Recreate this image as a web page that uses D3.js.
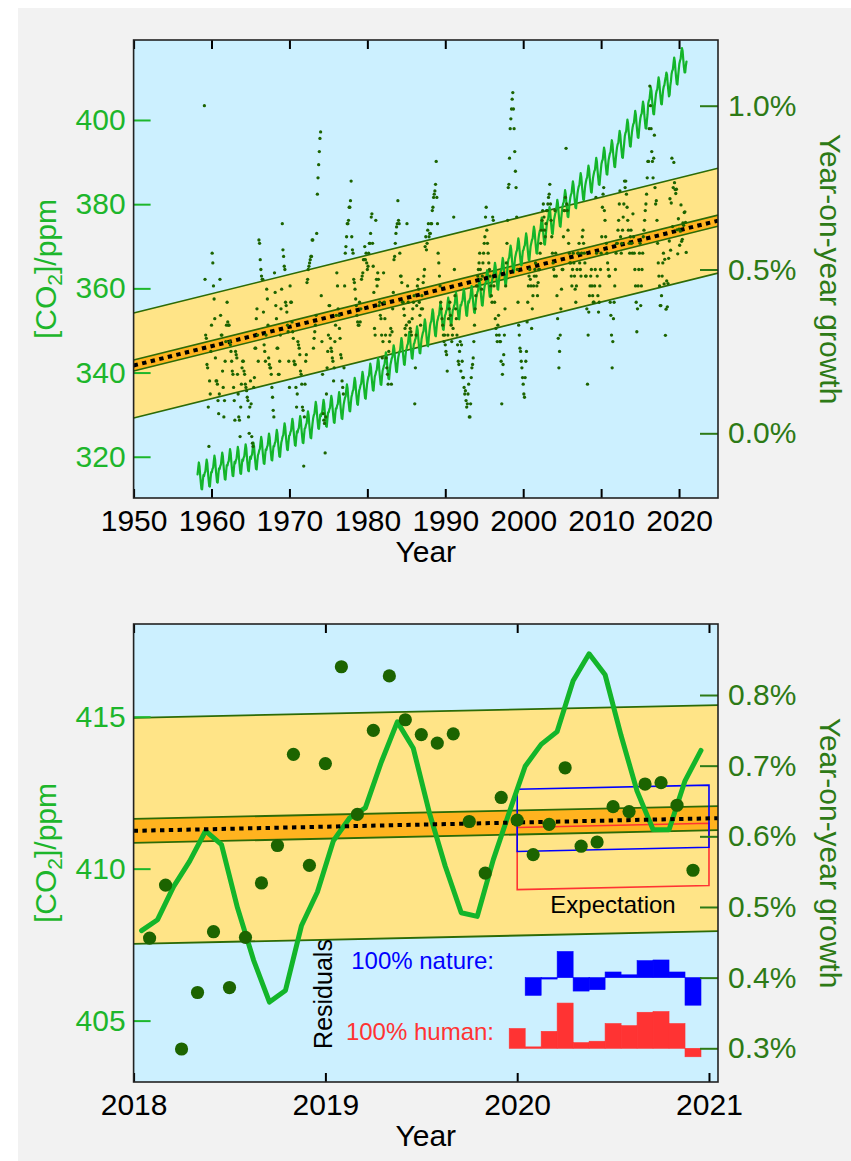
<!DOCTYPE html>
<html>
<head>
<meta charset="utf-8">
<script src="https://cdn.jsdelivr.net/npm/d3@7"></script>
<style>
  html, body { margin: 0; padding: 0; background: #ffffff; }
  svg { display: block; }
</style>
</head>
<body>
<svg id="fig" width="851" height="1161"></svg>
<script>
// ---------------------------------------------------------------------------
// Mauna Loa CO2: annual means (ppm), 1958 (Mar-Dec) to 2017
const co2AnnualStart = 1958;
const co2AnnualMean = [
  315.30, 315.98, 316.91, 317.64, 318.45, 318.99, 319.62, 320.04, 321.37, 322.18,
  323.05, 324.62, 325.68, 326.32, 327.46, 329.68, 330.19, 331.13, 332.03, 333.84,
  335.41, 336.84, 338.76, 340.12, 341.48, 343.15, 344.87, 346.35, 347.61, 349.31,
  351.69, 353.20, 354.45, 355.70, 356.54, 357.21, 358.96, 360.97, 362.74, 363.88,
  366.84, 368.54, 369.71, 371.32, 373.45, 375.98, 377.70, 379.98, 382.09, 384.02,
  385.83, 387.64, 390.10, 391.85, 394.06, 396.74, 398.81, 401.01, 404.41, 406.76
];
// mean seasonal departure from the annual mean, Jan..Dec (ppm)
const co2Seasonal = [-0.57, 0.17, 0.51, 2.02, 3.34, 2.47, 0.36, -1.41, -2.94, -3.06, -1.20, 0.36];
// monthly means 2018-2020 (ppm)
const co2Monthly2018 = [407.96, 408.32, 409.41, 410.24, 411.24, 410.79, 408.71, 407.00, 405.61, 405.99, 408.12, 409.23];
const co2Monthly2019 = [410.92, 411.66, 412.00, 413.51, 414.83, 413.96, 411.85, 410.08, 408.55, 408.43, 410.29, 411.85];
const co2Monthly2020 = [413.37, 414.09, 414.51, 416.18, 417.07, 416.38, 414.38, 412.55, 411.29, 411.28, 412.89, 413.89];

// Year-on-year growth of the monthly means, in hundredths of a percent.
// One row per year, Jan..Dec; each value is plotted at the end of its month.
const growth1950s = [
  [100, 47, 30, 29, 21, 20, 8, -4, 16, 12, 25, 33]            // 1959
];
const growth1960s = [
  [55, 52, 45, 41, 35, 23, 16, 16, 15, 10, 6, 12],
  [47, 36, 30, 30, 19, 14, 5, 10, 22, 28, 33, 40],
  [34, 33, 33, 28, 27, 25, 22, 19, 18, 14, 10, 4],
  [25, 24, 23, 18, 12, 5, 4, -1, 8, 15, 20, 22],
  [22, 19, 18, 15, 14, 13, 11, 10, 5, 0, 8, 16],
  [9, -1, -3, -4, 14, 17, 26, 26, 35, 38, 30, 22],
  [59, 58, 53, 50, 48, 47, 47, 37, 27, 25, 22, 30],
  [44, 41, 33, 23, 21, 20, 20, 18, 14, 11, 7, 5],
  [49, 43, 39, 35, 26, 26, 18, 18, 22, 30, 38, 44],
  [64, 56, 54, 51, 50, 40, 39, 37, 33, 31, 22, 14]
];
const growth1970s = [
  [45, 40, 40, 34, 31, 29, 22, 21, 21, 14, 8, 12],
  [28, 27, 26, 24, 19, 18, 15, 8, 7, -10, 5, 15],
  [22, 24, 46, 47, 50, 51, 52, 53, 54, 54, 59, 59],
  [26, 29, 31, 33, 36, 61, 73, 78, 82, 86, 90, 92],
  [42, 28, 18, 6, 4, 3, -6, 5, 12, 20, 25, 30],
  [39, 39, 29, 26, 25, 23, 22, 16, 20, 28, 33, 36],
  [49, 45, 38, 36, 32, 29, 24, 23, 16, 14, 12, 20],
  [45, 55, 57, 60, 64, 64, 65, 69, 69, 71, 77, 60],
  [56, 55, 47, 46, 44, 41, 39, 36, 34, 33, 33, 40],
  [34, 38, 47, 48, 49, 53, 53, 57, 53, 55, 52, 50]
];
const growth1980s = [
  [51, 55, 58, 58, 61, 66, 67, 58, 51, 43, 32, 30],
  [65, 47, 45, 49, 47, 39, 40, 36, 35, 30, 23, 28],
  [49, 40, 35, 30, 23, 20, 18, 15, 25, 28, 30, 32],
  [15, 31, 38, 43, 53, 54, 58, 61, 63, 64, 71, 65],
  [64, 55, 48, 48, 46, 40, 40, 38, 36, 32, 30, 33],
  [64, 45, 40, 34, 34, 32, 31, 30, 35, 38, 40, 42],
  [9, 20, 30, 39, 45, 47, 44, 40, 36, 33, 38, 42],
  [38, 46, 48, 50, 57, 60, 56, 58, 62, 64, 60, 61],
  [61, 64, 64, 68, 69, 72, 73, 74, 76, 83, 72, 64],
  [55, 52, 48, 45, 40, 38, 35, 33, 30, 28, 30, 27]
];
const growth1990s = [
  [25, 24, 19, 30, 35, 38, 40, 36, 33, 28, 30, 32],
  [66, 50, 42, 38, 35, 30, 27, 22, 21, 25, 28, 19],
  [27, 22, 17, 17, 14, 12, 13, 10, 8, 9, 12, 15],
  [5, 5, 9, 17, 20, 21, 23, 28, 33, 38, 42, 45],
  [45, 48, 50, 52, 55, 50, 47, 44, 48, 52, 55, 58],
  [60, 66, 69, 62, 58, 55, 52, 50, 48, 45, 42, 40],
  [66, 65, 45, 40, 35, 32, 30, 28, 33, 36, 30, 28],
  [28, 22, 9, 18, 21, 24, 30, 38, 45, 52, 58, 65],
  [75, 76, 84, 93, 96, 99, 102, 104, 99, 93, 86, 80],
  [75, 66, 50, 40, 33, 30, 26, 25, 22, 20, 17, 15]
];
const growth2000s = [
  [12, 11, 17, 22, 25, 34, 40, 45, 48, 50, 47, 45],
  [32, 38, 42, 45, 48, 50, 52, 48, 45, 42, 46, 50],
  [50, 55, 58, 62, 65, 68, 70, 66, 62, 60, 64, 68],
  [68, 70, 72, 73, 76, 70, 65, 60, 55, 52, 50, 48],
  [68, 55, 48, 42, 35, 29, 20, 25, 30, 38, 44, 50],
  [50, 60, 68, 68, 72, 87, 70, 68, 62, 58, 55, 52],
  [52, 48, 45, 50, 55, 52, 48, 44, 40, 45, 50, 55],
  [55, 58, 52, 50, 48, 55, 60, 62, 58, 55, 52, 48],
  [48, 38, 15, 30, 37, 42, 45, 48, 50, 45, 42, 40],
  [40, 45, 50, 72, 55, 48, 42, 37, 40, 45, 50, 55]
];
const growth2010s = [
  [60, 69, 73, 75, 68, 65, 60, 58, 55, 52, 50, 48],
  [48, 40, 36, 30, 20, 28, 35, 40, 45, 50, 55, 58],
  [58, 62, 65, 70, 74, 60, 55, 58, 62, 66, 70, 77],
  [75, 77, 73, 69, 65, 62, 58, 55, 60, 62, 58, 55],
  [67, 60, 55, 50, 45, 40, 31, 38, 45, 50, 55, 58],
  [39, 45, 50, 55, 60, 62, 65, 68, 70, 73, 78, 83],
  [83, 93, 106, 100, 93, 86, 83, 78, 84, 91, 75, 70],
  [71, 65, 58, 52, 48, 45, 39, 39, 42, 48, 52, 55],
  [45.6, 53.1, 29.9, 37.9, 46.5, 38.6, 45.7, 53.4, 58.7, 71.6, 55.9, 70.3],
  [84.0, 63.1, 75.0, 82.7, 76.5, 74.4, 73.2, 74.5, 62.1, 54.8, 65.5, 62.3]
];
const growth2020s = [
  [57.4, 61.7, 69.7, 58.6, 59.2, 64.2, 63.5, 67.4, 67.6, 64.4, 55.2]
];

// Linear trend of the growth (percent) with its spread and confidence bands
const trendYears = [1950, 2025];
const trendPct = [0.207, 0.649];
const spreadHalf = 0.16;
const confHalf = 0.017;

// 2020 expectation boxes (offset from the trend, percent) and residuals
const expectNatureOffset = 0.003;
const expectHumanOffset = -0.051;
const expectHalf = 0.044;
const residualNature = [0.000, -0.025, -0.002, 0.037, -0.019, -0.017, 0.008, 0.004, 0.024, 0.025, 0.008, -0.039];
const residualHuman  = [0.028, 0.002, 0.024, 0.064, 0.008, 0.010, 0.035, 0.032, 0.051, 0.052, 0.035, -0.012];

// Axis ticks
const yearTicksLong = [1950, 1960, 1970, 1980, 1990, 2000, 2010, 2020];
const yearTicksShort = [2018, 2019, 2020, 2021];
const ppmTicksLong = [320, 340, 360, 380, 400];
const ppmTicksShort = [405, 410, 415];
const pctTicksLong = [0.0, 0.5, 1.0];
const pctTicksShort = [0.3, 0.4, 0.5, 0.6, 0.7, 0.8];

// ---------------------------------------------------------------------------
const FONT = '"Liberation Sans", Arial, Helvetica, sans-serif';
const COL = {
  page: '#f2f2f2', sky: '#ccf0ff', spread: '#ffe487', conf: '#ffb31f',
  edge: '#2c6b06', co2: '#13b52a', dot: '#1c6400',
  leftText: '#1db62b', rightText: '#2d7a16',
  nature: '#0000ff', human: '#ff3333'
};

// monthly CO2 record assembled from the arrays above
const co2Series = [];
co2AnnualMean.forEach((mean, i) => {
  const year = co2AnnualStart + i;
  co2Seasonal.forEach((s, m) => {
    if (year === 1958 && m < 2) return;        // record begins in March 1958
    co2Series.push({ t: year + (m + 0.5) / 12, ppm: mean + s });
  });
});
[[2018, co2Monthly2018], [2019, co2Monthly2019], [2020, co2Monthly2020]].forEach(([year, vals]) => {
  vals.forEach((v, m) => co2Series.push({ t: year + (m + 0.5) / 12, ppm: v }));
});

const growthSeries = [];
[[1959, growth1950s], [1960, growth1960s], [1970, growth1970s], [1980, growth1980s],
 [1990, growth1990s], [2000, growth2000s], [2010, growth2010s], [2020, growth2020s]]
  .forEach(([y0, rows]) => rows.forEach((row, i) => row.forEach((v, m) => {
    growthSeries.push({ t: y0 + i + (m + 1) / 12, pct: v / 100 });
  })));

const trend = d3.scaleLinear().domain(trendYears).range(trendPct);

const svg = d3.select('#fig');
svg.append('rect').attr('x', 18).attr('y', 8).attr('width', 833).attr('height', 1153)
  .attr('fill', COL.page);

function drawPanel(o) {
  const x = d3.scaleLinear().domain(o.xDomain).range([o.left, o.right]);
  const yL = d3.scaleLinear().domain(o.ppmDomain).range([o.bottom, o.top]);
  const yR = d3.scaleLinear().domain(o.pctDomain).range([o.bottom, o.top]);
  const g = svg.append('g');

  const clipId = 'clip-' + o.id;
  svg.append('clipPath').attr('id', clipId).append('rect')
    .attr('x', o.left).attr('y', o.top)
    .attr('width', o.right - o.left).attr('height', o.bottom - o.top);

  g.append('rect').attr('x', o.left).attr('y', o.top)
    .attr('width', o.right - o.left).attr('height', o.bottom - o.top)
    .attr('fill', COL.sky);

  const plot = g.append('g').attr('clip-path', `url(#${clipId})`);
  const ends = o.xDomain;

  // bands around the growth trend
  const band = (lo, hi) => {
    const pts = [[ends[0], trend(ends[0]) + hi], [ends[1], trend(ends[1]) + hi],
                 [ends[1], trend(ends[1]) + lo], [ends[0], trend(ends[0]) + lo]];
    return 'M' + pts.map(p => x(p[0]) + ',' + yR(p[1])).join('L') + 'Z';
  };
  const edge = off => d3.line().x(t => x(t)).y(t => yR(trend(t) + off))(ends);

  plot.append('path').attr('d', band(-spreadHalf, spreadHalf)).attr('fill', COL.spread);
  plot.append('path').attr('d', band(-confHalf, confHalf)).attr('fill', COL.conf);
  [spreadHalf, -spreadHalf, confHalf, -confHalf].forEach(off => {
    plot.append('path').attr('d', edge(off)).attr('fill', 'none')
      .attr('stroke', COL.edge).attr('stroke-width', o.edgeW);
  });

  if (o.drawExpectation) o.drawExpectation(plot, x, yR);

  // CO2 monthly record
  const series = co2Series.filter(d => d.t >= o.xDomain[0] && d.t <= o.xDomain[1]);
  plot.append('path')
    .attr('d', d3.line().x(d => x(d.t)).y(d => yL(d.ppm))(series))
    .attr('fill', 'none').attr('stroke', COL.co2).attr('stroke-width', o.lineW)
    .attr('stroke-linejoin', 'round').attr('stroke-linecap', 'round');

  // trend line
  plot.append('path').attr('d', edge(0)).attr('fill', 'none')
    .attr('stroke', '#000').attr('stroke-width', 4).attr('stroke-dasharray', '4.4,4.4');

  // growth points
  plot.append('g').selectAll('circle')
    .data(growthSeries.filter(d => d.t > o.xDomain[0] && d.t < o.xDomain[1]))
    .join('circle')
    .attr('cx', d => x(d.t)).attr('cy', d => yR(d.pct)).attr('r', o.dotR)
    .attr('fill', COL.dot);

  if (o.drawResiduals) o.drawResiduals(plot, x, yR);

  // axes (ticks point into the plot)
  const style = (sel, color, tickColor) => {
    sel.attr('font-family', FONT).attr('font-size', 30);
    sel.select('.domain').remove();
    sel.selectAll('line').attr('stroke', tickColor).attr('stroke-width', 2);
    sel.selectAll('text').attr('fill', color);
  };
  g.append('g').attr('transform', `translate(0,${o.bottom})`)
    .call(d3.axisBottom(x).tickValues(o.xTicks).tickFormat(d3.format('d')).tickSize(-9).tickPadding(12))
    .call(s => style(s, '#000', '#000'));
  g.append('g').attr('transform', `translate(0,${o.top})`)
    .call(d3.axisTop(x).tickValues(o.xTicks).tickFormat('').tickSize(-9))
    .call(s => style(s, '#000', '#000'));
  g.append('g').attr('transform', `translate(${o.left},0)`)
    .call(d3.axisLeft(yL).tickValues(o.ppmTicks).tickFormat(d3.format('d')).tickSize(-17).tickPadding(8))
    .call(s => style(s, COL.leftText, COL.leftText));
  g.append('g').attr('transform', `translate(${o.right},0)`)
    .call(d3.axisRight(yR).tickValues(o.pctTicks).tickFormat(d => d.toFixed(1) + '%').tickSize(-18).tickPadding(10))
    .call(s => style(s, COL.rightText, COL.rightText));

  // frame
  g.append('rect').attr('x', o.left).attr('y', o.top)
    .attr('width', o.right - o.left).attr('height', o.bottom - o.top)
    .attr('fill', 'none').attr('stroke', '#222').attr('stroke-width', 1.6);

  // axis titles
  const midY = (o.top + o.bottom) / 2;
  g.append('text').attr('x', (o.left + o.right) / 2).attr('y', o.bottom + 64)
    .attr('text-anchor', 'middle').attr('font-family', FONT).attr('font-size', 30)
    .attr('fill', '#000').text('Year');
  const lt = g.append('text').attr('transform', `translate(55.5,${midY}) rotate(-90)`)
    .attr('text-anchor', 'middle').attr('font-family', FONT).attr('font-size', 30)
    .attr('fill', COL.leftText);
  lt.append('tspan').text('[CO');
  lt.append('tspan').attr('font-size', 21).attr('dy', 6).text('2');
  lt.append('tspan').attr('dy', -6).text(']/ppm');
  g.append('text').attr('transform', `translate(819.5,${midY}) rotate(90)`)
    .attr('text-anchor', 'middle').attr('font-family', FONT).attr('font-size', 30)
    .attr('fill', COL.rightText).text('Year-on-year growth');
}

// Long record, 1950-2025
drawPanel({
  id: 'long', left: 133.6, right: 718, top: 40, bottom: 498,
  xDomain: [1950, 2025], ppmDomain: [310.2, 419], pctDomain: [-0.1975, 1.2006],
  xTicks: yearTicksLong, ppmTicks: ppmTicksLong, pctTicks: pctTicksLong,
  lineW: 2.2, dotR: 1.65, edgeW: 1.6
});

// Recent years, 2018-2020
drawPanel({
  id: 'recent', left: 133.6, right: 718, top: 624, bottom: 1082,
  xDomain: [2018, 2021.047], ppmDomain: [402.98, 418.05], pctDomain: [0.2523, 0.9005],
  xTicks: yearTicksShort, ppmTicks: ppmTicksShort, pctTicks: pctTicksShort,
  lineW: 5, dotR: 6.6, edgeW: 1.8,
  drawExpectation(plot, x, yR) {
    const box = (off, color) => {
      const t0 = 2020, t1 = 2021;
      const pts = [[t0, trend(t0) + off + expectHalf], [t1, trend(t1) + off + expectHalf],
                   [t1, trend(t1) + off - expectHalf], [t0, trend(t0) + off - expectHalf]];
      plot.append('path')
        .attr('d', 'M' + pts.map(p => x(p[0]) + ',' + yR(p[1])).join('L') + 'Z')
        .attr('fill', 'none').attr('stroke', color).attr('stroke-width', 1.6);
    };
    box(expectHumanOffset, COL.human);
    box(expectNatureOffset, COL.nature);
    plot.append('text').attr('x', 613).attr('y', 913).attr('text-anchor', 'middle')
      .attr('font-family', FONT).attr('font-size', 24).attr('fill', '#000').text('Expectation');
  },
  drawResiduals(plot, x, yR) {
    const bars = (vals, base, color) => {
      plot.append('g').selectAll('rect').data(vals).join('rect')
        .attr('x', (v, i) => x(2020 + i / 12 - 1 / 24))
        .attr('width', (v, i) => x(2020 + i / 12 + 1 / 24) - x(2020 + i / 12 - 1 / 24))
        .attr('y', v => Math.min(yR(base), yR(base + v)))
        .attr('height', v => Math.abs(yR(base + v) - yR(base)))
        .attr('fill', color).attr('stroke', color).attr('stroke-width', 0.6);
    };
    bars(residualNature, 0.4, COL.nature);
    bars(residualHuman, 0.3, COL.human);
    plot.append('text').attr('x', 494).attr('y', 969).attr('text-anchor', 'end')
      .attr('font-family', FONT).attr('font-size', 24).attr('fill', COL.nature).text('100% nature:');
    plot.append('text').attr('x', 494).attr('y', 1040).attr('text-anchor', 'end')
      .attr('font-family', FONT).attr('font-size', 24).attr('fill', COL.human).text('100% human:');
    plot.append('text').attr('transform', 'translate(332,994) rotate(-90)').attr('text-anchor', 'middle')
      .attr('font-family', FONT).attr('font-size', 25).attr('fill', '#000').text('Residuals');
  }
});
</script>
</body>
</html>
